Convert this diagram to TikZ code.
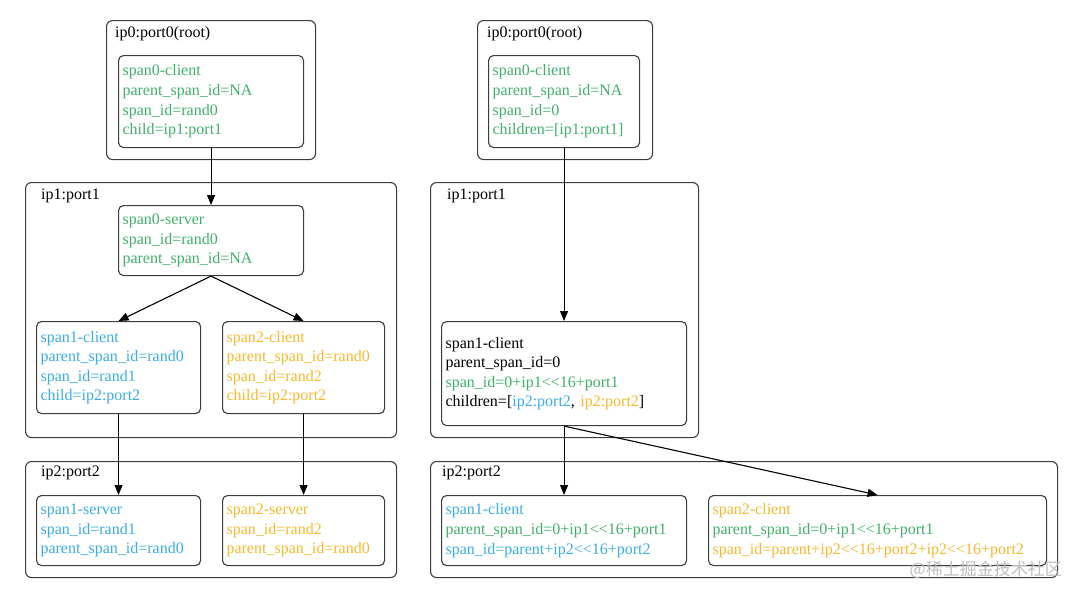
\documentclass[tikz,border=0pt]{standalone}
\usepackage{fontspec}
\setmainfont{Liberation Serif}[Ligatures=TeXOff]
\newfontfamily\cjkwm{Noto Sans CJK SC}
\usetikzlibrary{arrows.meta}
\definecolor{cgreen}{RGB}{64,176,104}
\definecolor{cblue}{RGB}{58,172,226}
\definecolor{corange}{RGB}{246,184,46}
\definecolor{cborder}{RGB}{60,60,60}
\definecolor{cwm}{RGB}{190,190,190}
\tikzset{
  txt/.style={font=\fontsize{16}{19.6}\selectfont},
  spanbox/.style={draw=cborder, rounded corners=5pt, line width=1.1pt, align=left,
    inner xsep=4pt, inner ysep=0pt, anchor=north west, txt},
  cluster/.style={draw=cborder, rounded corners=6pt, line width=1.1pt, anchor=north west,
    inner sep=0pt},
  clabel/.style={anchor=west, inner sep=0pt, txt},
  arr/.style={line width=1.1pt, -{Triangle[length=10pt,width=8pt]}},
}
\begin{document}
\begin{tikzpicture}[x=1pt,y=-1pt]
\useasboundingbox (0,0) rectangle (1080,597);
% ---------------- left side ----------------
\node[cluster, minimum width=209pt, minimum height=139pt] (L0) at (106,20) {};
\node[clabel] (L0l) at (115,34) {ip0:port0(root)};
\node[cluster, minimum width=371pt, minimum height=255pt] (L1) at (25,182) {};
\node[clabel] (L1l) at (41,196) {ip1:port1};
\node[cluster, minimum width=371pt, minimum height=116pt] (L2) at (25,461) {};
\node[clabel] (L2l) at (41,473) {ip2:port2};

\node[spanbox, text width=177pt, minimum height=92pt, text=cgreen] (c0) at (118,55)
  {span0-client\\parent\_span\_id=NA\\span\_id=rand0\\child=ip1:port1};
\node[spanbox, text width=177pt, minimum height=70pt, text=cgreen] (s0) at (118,205)
  {span0-server\\span\_id=rand0\\parent\_span\_id=NA};
\node[spanbox, text width=156pt, minimum height=92pt, text=cblue] (sp1c) at (36,321)
  {span1-client\\parent\_span\_id=rand0\\span\_id=rand1\\child=ip2:port2};
\node[spanbox, text width=154pt, minimum height=92pt, text=corange] (sp2c) at (222,321)
  {span2-client\\parent\_span\_id=rand0\\span\_id=rand2\\child=ip2:port2};
\node[spanbox, text width=156pt, minimum height=70pt, text=cblue] (sp1s) at (36,495)
  {span1-server\\span\_id=rand1\\parent\_span\_id=rand0};
\node[spanbox, text width=154pt, minimum height=70pt, text=corange] (sp2s) at (222,495)
  {span2-server\\span\_id=rand2\\parent\_span\_id=rand0};

\draw[arr] (c0.south) -- (s0.north);
\draw[arr] (s0.south) -- (sp1c.north);
\draw[arr] (s0.south) -- (sp2c.north);
\draw[arr] (sp1c.south) -- (sp1s.north);
\draw[arr] (sp2c.south) -- (sp2s.north);

% ---------------- right side ----------------
\node[cluster, minimum width=175pt, minimum height=139pt] (R0) at (477,20) {};
\node[clabel] (R0l) at (487,34) {ip0:port0(root)};
\node[cluster, minimum width=268pt, minimum height=255pt] (R1) at (430,182) {};
\node[clabel] (R1l) at (447,196) {ip1:port1};
\node[cluster, minimum width=627pt, minimum height=116pt] (R2) at (430,461) {};
\node[clabel] (R2l) at (442,473) {ip2:port2};

\node[spanbox, text width=143pt, minimum height=92pt, text=cgreen] (r0) at (488,55)
  {span0-client\\parent\_span\_id=NA\\span\_id=0\\children=[ip1:port1]};
\node[spanbox, text width=237pt, minimum height=104pt] (r1) at (441,321)
  {span1-client\\parent\_span\_id=0\\\textcolor{cgreen}{span\_id=0+ip1<<16+port1}\\children=[\textcolor{cblue}{ip2:port2}, \textcolor{corange}{ip2:port2}]};
\node[spanbox, text width=237pt, minimum height=70pt] (rA) at (441,495)
  {\textcolor{cblue}{span1-client}\\\textcolor{cgreen}{parent\_span\_id=0+ip1<<16+port1}\\\textcolor{cblue}{span\_id=parent+ip2<<16+port2}};
\node[spanbox, text width=330pt, minimum height=70pt] (rB) at (708,495)
  {\textcolor{corange}{span2-client}\\\textcolor{cgreen}{parent\_span\_id=0+ip1<<16+port1}\\\textcolor{corange}{span\_id=parent+ip2<<16+port2+ip2<<16+port2}};

\draw[arr] (r0.south) -- (r1.north);
\draw[arr] (r1.south) -- (rA.north);
\draw[arr] (r1.south) -- (rB.north);

% watermark
\node[anchor=east, inner sep=0pt, text=cwm, font=\cjkwm\fontsize{17}{17}\selectfont] (wm) at (1062,570) {@稀土掘金技术社区};
\end{tikzpicture}
\end{document}
